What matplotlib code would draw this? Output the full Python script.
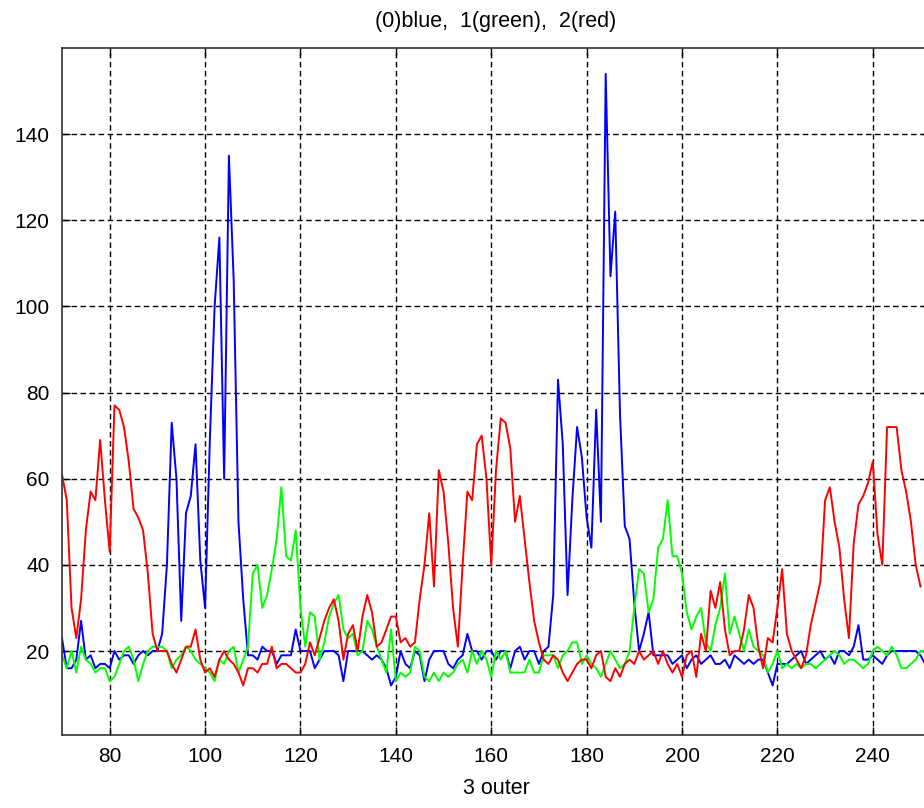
import numpy as np
import matplotlib
matplotlib.use("Agg")
import matplotlib.pyplot as plt

x_start = 70
blue = [23,16,16,18,27,18,19,16,17,17,
        16,20,18,19,19,17,19,20,19,20,
        20,24,40,73,60,27,52,56,68,41,
        30,69,100,116,60,135,106,50,32,19,
        19,18,21,20,20,17,19,19,19,25,
        20,20,20,16,18,20,20,20,19,13,
        20,20,20,20,19,18,19,18,16,12,
        14,20,17,16,20,19,13,18,20,20,
        20,17,16,18,19,24,20,20,18,20,
        20,18,20,20,16,20,21,18,20,20,
        17,20,21,33,83,68,33,55,72,65,
        51,44,76,50,154,107,122,75,49,46,
        31,20,24,29,19,19,19,19,17,18,
        19,16,18,19,17,18,19,17,17,18,
        16,19,18,17,18,17,18,18,15,12,
        17,17,17,18,19,20,17,18,19,20,
        18,19,17,20,20,19,21,26,18,18,
        19,18,17,19,20,20,20,20,20,20,
        19,17]
green = [19,16,20,15,21,18,17,15,16,16,
         13,14,17,20,21,18,13,17,20,21,
         21,21,20,16,18,19,21,20,18,17,
         16,15,13,18,17,20,21,15,18,21,
         38,40,30,33,39,46,58,42,41,48,
         30,21,29,28,18,22,28,31,33,25,
         23,24,19,20,27,25,21,18,15,25,
         13,15,14,15,21,20,14,13,15,13,
         15,14,15,17,18,15,20,17,20,18,
         14,20,18,20,15,15,15,15,18,15,
         15,19,19,19,16,19,20,22,22,17,
         19,17,16,14,17,20,18,16,17,20,
         30,39,38,29,32,44,46,55,42,42,
         38,29,25,28,30,22,20,26,30,38,
         24,28,24,20,25,21,20,19,15,17,
         20,16,17,16,17,16,17,17,16,17,
         18,19,20,19,17,18,18,17,16,17,
         20,21,20,19,21,19,16,16,17,18,
         20,20]
red = [61,55,30,23,32,48,57,55,69,55,
       43,77,76,72,64,53,51,48,38,24,
       20,20,20,17,15,18,21,21,25,18,
       15,16,14,18,20,18,17,15,12,16,
       16,15,17,17,21,16,17,17,16,15,
       15,17,22,19,23,27,30,32,27,18,
       24,26,20,28,33,29,21,22,25,28,
       28,22,23,21,22,32,40,52,35,62,
       57,45,30,21,40,57,55,68,70,60,
       40,62,74,73,67,50,56,46,36,27,
       22,18,17,19,18,15,13,15,17,18,
       18,16,19,20,14,13,16,14,17,18,
       17,20,18,19,20,17,20,17,15,17,
       14,19,20,14,24,20,34,30,36,25,
       19,20,20,25,33,30,21,16,23,22,
       30,39,24,20,18,16,19,26,31,36,
       55,58,50,44,32,23,45,54,56,59,
       64,47,40,72,72,72,62,57,50,40,
       35]
title_text = "(0)blue,  1(green),  2(red)"
xlabel_text = "3 outer"
xticks = [80, 100, 120, 140, 160, 180, 200, 220, 240]
yticks = [20, 40, 60, 80, 100, 120, 140]

plt.rcParams['font.family'] = ['Liberation Sans', 'DejaVu Sans']

W, H = 924, 808
fig = plt.figure(figsize=(W/100, H/100), dpi=100)
ax = fig.add_axes([62/W, 73/H, 868/W, 687/H])

for series, col in ((blue, (0, 0, 1)), (green, (0, 1, 0)), (red, (1, 0, 0))):
    xs = np.arange(x_start, x_start + len(series))
    ax.plot(xs, series, color=col, lw=1.4)

ax.set_xlim(70, 252)
ax.set_ylim(0.5, 160)
ax.set_xticks(xticks)
ax.set_yticks(yticks)
ax.tick_params(direction='in', length=6, width=1, labelsize=15, top=True, right=True, pad=9)
ax.grid(True, color='black', linestyle=(0, (4, 2.5)), linewidth=1.0)
for s in ax.spines.values():
    s.set_linewidth(1.2)
    s.set_color('#333333')
ax.set_title(title_text, fontsize=15.5, pad=15)
ax.set_xlabel(xlabel_text, fontsize=15.5, labelpad=8)

fig.savefig("out.png", dpi=100)
